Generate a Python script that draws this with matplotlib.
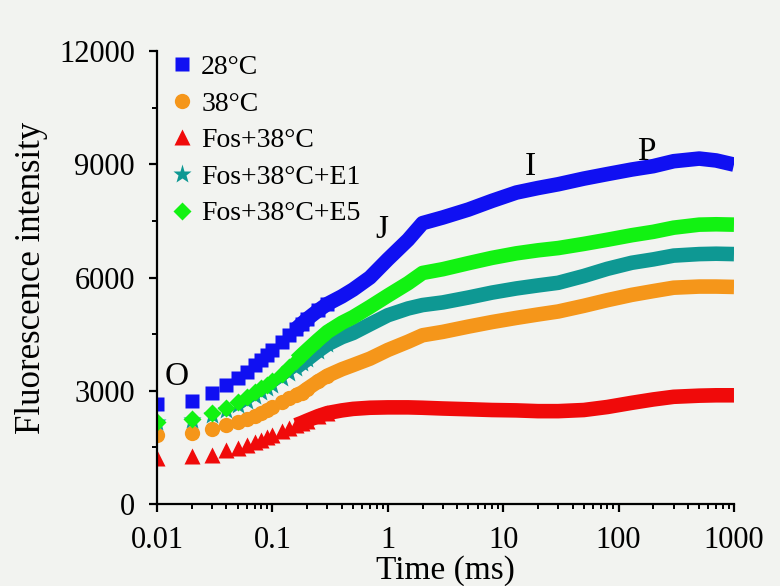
import matplotlib
matplotlib.use("Agg")
import matplotlib.pyplot as plt
from matplotlib.ticker import FixedLocator, LogLocator, NullFormatter

plt.rcParams['font.family'] = ['Liberation Serif', 'DejaVu Serif']

# tempo (ms)
t = [0.01, 0.02, 0.03, 0.04, 0.05, 0.06, 0.07, 0.08, 0.09, 0.1,
     0.12, 0.14, 0.16, 0.18, 0.2, 0.25, 0.3, 0.4, 0.5, 0.7,
     1, 1.5, 2, 3, 5, 8, 13, 20, 30, 50,
     80, 130, 200, 300, 500, 700, 1000]

# intensidade de fluorescencia de cada tratamento
c28 = [2640, 2740, 2950, 3150, 3330, 3500, 3680, 3820, 3950, 4070,
       4280, 4470, 4640, 4780, 4900, 5130, 5300, 5500, 5680, 6000,
       6480, 7000, 7440, 7590, 7800, 8030, 8250, 8370, 8470, 8620,
       8740, 8860, 8950, 9080, 9150, 9100, 8990]
c38 = [1830, 1890, 2000, 2090, 2180, 2250, 2330, 2400, 2490, 2580,
       2700, 2800, 2880, 2950, 3050, 3250, 3400, 3570, 3680, 3850,
       4080, 4300, 4470, 4560, 4700, 4820, 4930, 5020, 5100, 5250,
       5400, 5540, 5640, 5730, 5760, 5760, 5750]
fos38 = [1220, 1260, 1300, 1420, 1490, 1560, 1640, 1700, 1770, 1830,
         1930, 2010, 2090, 2150, 2210, 2330, 2410, 2480, 2520, 2550,
         2560, 2560, 2550, 2530, 2510, 2490, 2480, 2460, 2460, 2490,
         2570, 2680, 2770, 2840, 2870, 2880, 2880]
fos38_e1 = [2170, 2220, 2360, 2490, 2620, 2740, 2860, 2970, 3060, 3160,
            3330, 3480, 3610, 3730, 3830, 4060, 4230, 4420, 4530, 4760,
            5000, 5180, 5270, 5340, 5470, 5600, 5710, 5790, 5860, 6040,
            6230, 6390, 6480, 6580, 6620, 6630, 6620]
fos38_e5 = [2180, 2240, 2400, 2540, 2710, 2840, 2970, 3070, 3160, 3250,
            3450, 3630, 3800, 3950, 4080, 4350, 4560, 4800, 4950, 5220,
            5520, 5850, 6120, 6220, 6380, 6520, 6640, 6720, 6780, 6890,
            7000, 7120, 7210, 7320, 7400, 7410, 7400]

series = [
    ("28°C", c28, '#1010f2', 's', 10),
    ("38°C", c38, '#f5961a', 'o', 11),
    ("Fos+38°C", fos38, '#f00a0a', '^', 11),
    ("Fos+38°C+E1", fos38_e1, '#0e9893', '*', 14),
    ("Fos+38°C+E5", fos38_e5, '#12f212', 'D', 9),
]

# rotulos das fases OJIP
fases = ['O', 'J', 'I', 'P']
fases_t = [0.0148, 0.885, 17.1, 175]
fases_y = [3370, 7260, 8930, 9330]

bg = '#f2f3f0'
fig = plt.figure(figsize=(7.8, 5.86), dpi=100, facecolor=bg)
ax = fig.add_axes([0.2013, 0.1399, 0.7397, 0.7731])
ax.set_facecolor(bg)

n_mark = 17   # pontos esparsos desenhados como marcadores
n_line = 12   # a partir daqui os pontos se fundem numa faixa
handles = []
for nome, y, cor, mk, ms in series:
    ax.plot(t[n_line:], y[n_line:], color=cor, lw=10.5,
            solid_capstyle='butt', solid_joinstyle='round')
    h, = ax.plot(t[:n_mark], y[:n_mark], ls='none', marker=mk, ms=ms,
                 color=cor, mec='none', label=nome)
    handles.append(h)

for s, x, y in zip(fases, fases_t, fases_y):
    ax.text(x, y, s, fontsize=24, ha='center', va='center')

ax.set_xscale('log')
ax.set_xlim(0.01, 1000)
ax.set_ylim(0, 12000)
ax.set_xticks([0.01, 0.1, 1, 10, 100, 1000])
ax.set_xticklabels(['0.01', '0.1', '1', '10', '100', '1000'])
ax.xaxis.set_minor_locator(LogLocator(base=10, subs=range(2, 10)))
ax.xaxis.set_minor_formatter(NullFormatter())
ax.set_yticks([0, 3000, 6000, 9000, 12000])
ax.yaxis.set_minor_locator(FixedLocator([1500, 4500, 7500, 10500]))

for lado in ['top', 'right']:
    ax.spines[lado].set_visible(False)
for lado in ['left', 'bottom']:
    ax.spines[lado].set_linewidth(1.6)
ax.tick_params(which='major', direction='out', length=6, width=1.6,
               labelsize=22)
ax.tick_params(axis='x', which='major', pad=10)
ax.tick_params(axis='y', which='major', pad=10)
ax.tick_params(which='minor', direction='out', length=3.5, width=1.4)

ax.set_xlabel('Time (ms)', fontsize=24, labelpad=0)
ax.set_ylabel('Fluorescence intensity', fontsize=25, labelpad=8)

ax.legend(handles=handles, loc='upper left', bbox_to_anchor=(-0.01, 1.035),
          frameon=False, fontsize=20, handlelength=0.8, handletextpad=0.3,
          labelspacing=0.4, borderaxespad=0.3, numpoints=1)

fig.savefig('out.png', dpi=100, facecolor=bg)
